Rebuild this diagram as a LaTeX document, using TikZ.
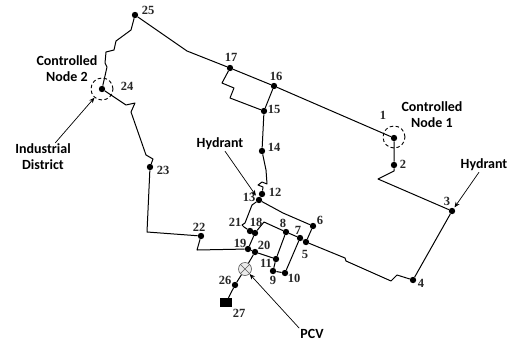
\documentclass[tikz,border=0pt]{standalone}
\usepackage{fontspec}
\setmainfont{Liberation Serif}
\newfontfamily\callout{Carlito}
\usetikzlibrary{arrows.meta}

\begin{document}
\begin{tikzpicture}[
  x=1pt, y=-1pt,
  junction/.style={circle, fill=black, inner sep=0pt, minimum size=6.4pt},
  numlabel/.style={font=\fontsize{12.5}{13}\selectfont\bfseries, inner sep=0pt, text=black!85},
  calloutlabel/.style={font=\callout\fontsize{14}{16}\selectfont\bfseries, align=center, inner sep=1pt},
  pipe/.style={line width=1pt, line join=round},
  controlled/.style={circle, draw=black, dash pattern=on 3.5pt off 2.5pt, line width=0.9pt, minimum size=22pt, inner sep=0pt},
  valve/.style={circle, draw=black!65, fill=black!8, line width=0.6pt, minimum size=13pt, inner sep=0pt,
    path picture={\draw[black!65, line width=0.5pt] (path picture bounding box.south west) -- (path picture bounding box.north east)
      (path picture bounding box.north west) -- (path picture bounding box.south east);}},
  arrow/.style={-{Stealth[length=5.5pt,width=4.5pt]}, line width=0.7pt}
]
\useasboundingbox (0,0) rectangle (513,343);

% Junctions
\node[junction] (n1) at (394,138) {};
\node[junction] (n2) at (394,165) {};
\node[junction] (n3) at (452,211) {};
\node[junction] (n4) at (413,280) {};
\node[junction] (n5) at (306,242) {};
\node[junction] (n6) at (313,226) {};
\node[junction] (n7) at (300,238) {};
\node[junction] (n8) at (286,232) {};
\node[junction] (n9) at (273,271) {};
\node[junction] (n10) at (285,273) {};
\node[junction] (n11) at (276,259) {};
\node[junction] (n12) at (262,194) {};
\node[junction] (n13) at (259,200) {};
\node[junction] (n14) at (262,151) {};
\node[junction] (n15) at (264,111) {};
\node[junction] (n16) at (274,86) {};
\node[junction] (n17) at (230,68) {};
\node[junction] (n18) at (255,233) {};
\node[junction] (n19) at (248,249) {};
\node[junction] (n20) at (255,252) {};
\node[junction] (n21) at (250,231) {};
\node[junction] (n22) at (201,236) {};
\node[junction] (n23) at (150,167) {};
\node[junction] (n24) at (102,89) {};
\node[junction] (n25) at (135,15) {};
\node[junction] (n26) at (235,285) {};
\node[rectangle, fill=black, minimum width=12pt, minimum height=9pt, inner sep=0pt] (tank) at (226,302.5) {};
\node[valve] (pcv) at (245,269) {};

% Controlled nodes
\node[controlled] (ctrlA) at (394,137) {};
\node[controlled] (ctrlB) at (102,89) {};

% Pipes
\draw[pipe] (n25) -- (131,30) -- (116,41) -- (114,50) -- (106,52) -- (105,63) -- (107,67) -- (n24);
\draw[pipe] (n24) -- (126,105) -- (135,103) -- (131,112) -- (146,155) -- (153,159) -- (n23);
\draw[pipe] (n23) -- (147,232) -- (n22);
\draw[pipe] (n25) -- (187,51) -- (n17);
\draw[pipe] (n17) -- (n16) -- (n1) -- (n2) -- (394,171) -- (378,179) -- (n3);
\draw[pipe] (n17) -- (222,83) -- (234,88) -- (230,98) -- (n15);
\draw[pipe] (n16) -- (n15) -- (n14) -- (266,170) -- (267,184) -- (262,182) -- (258,185) -- (263,187) -- (n12) -- (n13);
\draw[pipe] (n13) -- (252,205) -- (245,223) -- (242,225) -- (244,227) -- (n21) -- (n18) -- (n19);
\draw[pipe] (n13) -- (283,213) -- (n6) -- (n5);
\draw[pipe] (n18) -- (264,222) -- (n8) -- (n7) -- (n5) -- (345,258) -- (346,261) -- (391,281) -- (397,275) -- (n4) -- (n3);
\draw[pipe] (n22) -- (197,250) -- (n19) -- (n20) -- (n11) -- (n8);
\draw[pipe] (n11) -- (n9) -- (n10) -- (n7);
\draw[pipe] (n20) -- (pcv) -- (n26) -- (tank);

% Node numbers
\node[numlabel] (l1) at (383,115) {1};
\node[numlabel] (l2) at (403,164) {2};
\node[numlabel] (l3) at (447,201) {3};
\node[numlabel] (l4) at (421,283) {4};
\node[numlabel] (l5) at (305,254) {5};
\node[numlabel] (l6) at (320,220) {6};
\node[numlabel] (l7) at (298,230) {7};
\node[numlabel] (l8) at (283,223) {8};
\node[numlabel] (l9) at (273,280) {9};
\node[numlabel] (l10) at (294,278) {10};
\node[numlabel] (l11) at (266,263) {11};
\node[numlabel] (l12) at (275,192) {12};
\node[numlabel] (l13) at (249,197) {13};
\node[numlabel] (l14) at (274,147) {14};
\node[numlabel] (l15) at (274,109) {15};
\node[numlabel] (l16) at (276,76) {16};
\node[numlabel] (l17) at (231,57) {17};
\node[numlabel] (l18) at (256,222) {18};
\node[numlabel] (l19) at (240,243) {19};
\node[numlabel] (l20) at (264,245) {20};
\node[numlabel] (l21) at (235,222) {21};
\node[numlabel] (l22) at (199,227) {22};
\node[numlabel] (l23) at (163,170) {23};
\node[numlabel] (l24) at (127,86) {24};
\node[numlabel] (l25) at (148,10) {25};
\node[numlabel] (l26) at (225,280) {26};
\node[numlabel] (l27) at (239,313) {27};

% Callouts
\node[calloutlabel] (ctrlAtext) at (432,115) {Controlled\\Node 1};
\node[calloutlabel] (ctrlBtext) at (67,69) {Controlled\\Node 2};
\node[calloutlabel] (district) at (43,157) {Industrial\\District};
\node[calloutlabel] (hydrantA) at (220,144) {Hydrant};
\node[calloutlabel] (hydrantB) at (484,165) {Hydrant};
\node[calloutlabel] (pcvtext) at (312,334) {PCV};

\draw[arrow] (district) -- (ctrlB);
\draw[arrow, shorten >=2pt] (hydrantA) -- (n13);
\draw[arrow, shorten >=1pt] (hydrantB) -- (n3);
\draw[arrow] (pcvtext.north west) -- (pcv);

\end{tikzpicture}
\end{document}
